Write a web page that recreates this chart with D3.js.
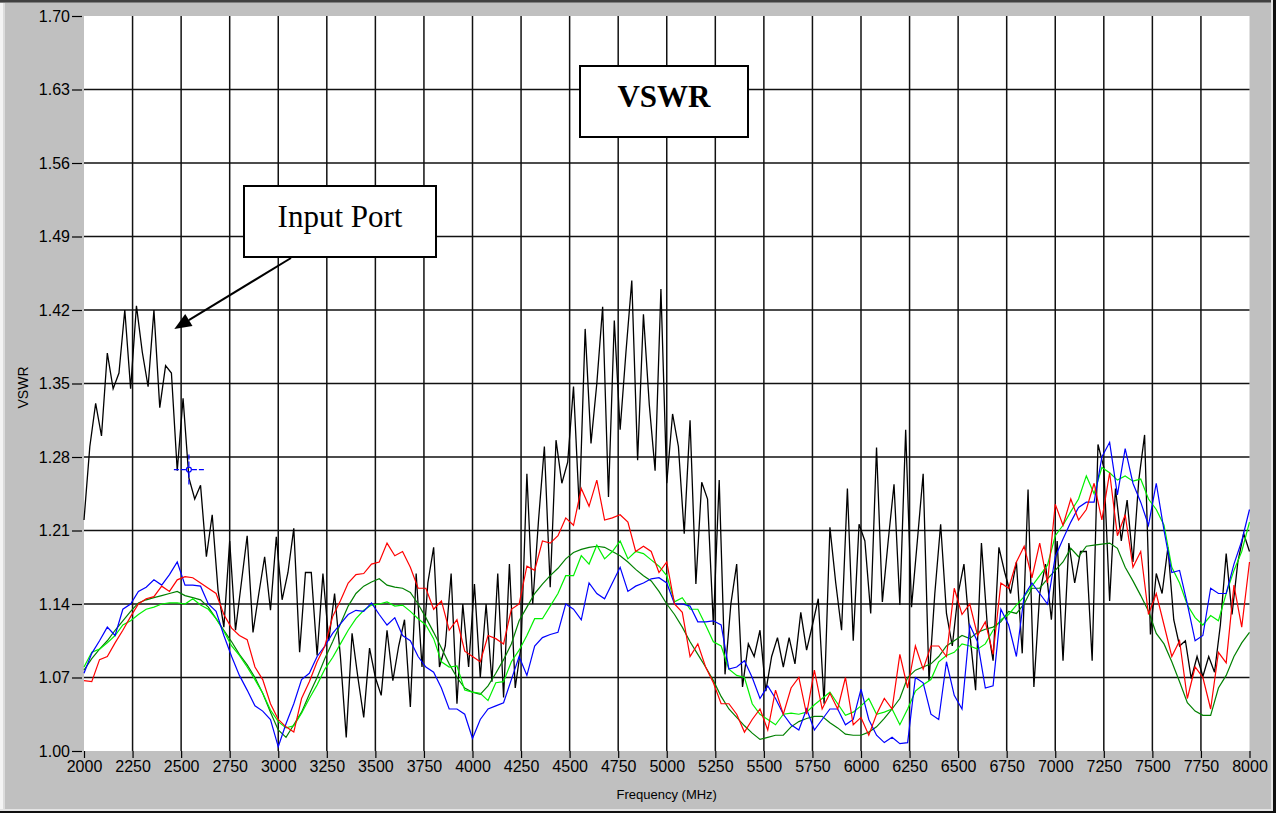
<!DOCTYPE html>
<html><head><meta charset="utf-8">
<script src="https://cdn.jsdelivr.net/npm/d3@7"></script>
<style>body{margin:0;background:#c0c0c0;overflow:hidden}svg{display:block}</style>
</head><body><svg id="c" width="1282" height="814"></svg>
<script>
// ---------- data ----------
const freqBlack = d3.range(2000, 8001, 30);   // 201 sweep points, MHz
const vswrBlack = [
 1.22,1.29,1.331,1.30,1.379,1.345,1.36,1.42,1.345,1.424,      // 2000
 1.38,1.347,1.42,1.327,1.367,1.36,1.267,1.336,1.26,1.24,      // 2300
 1.253,1.185,1.225,1.153,1.118,1.20,1.115,1.16,1.205,1.113,   // 2600
 1.15,1.185,1.134,1.204,1.144,1.17,1.212,1.094,1.17,1.17,     // 2900
 1.091,1.169,1.105,1.15,1.09,1.013,1.112,1.07,1.032,1.098,    // 3200
 1.07,1.053,1.115,1.067,1.10,1.125,1.042,1.169,1.08,1.16,     // 3500
 1.194,1.08,1.10,1.169,1.045,1.14,1.08,1.159,1.07,1.14,       // 3800
 1.066,1.169,1.051,1.178,1.06,1.10,1.264,1.14,1.22,1.29,      // 4100
 1.156,1.296,1.255,1.275,1.347,1.23,1.402,1.293,1.35,1.423,   // 4400
 1.242,1.41,1.306,1.38,1.448,1.277,1.416,1.33,1.267,1.44,     // 4700
 1.255,1.321,1.29,1.207,1.315,1.159,1.256,1.24,1.12,1.258,    // 5000
 1.073,1.14,1.178,1.061,1.102,1.09,1.115,1.057,1.09,1.108,    // 5300
 1.08,1.108,1.083,1.132,1.096,1.12,1.145,1.045,1.213,1.16,    // 5600
 1.115,1.25,1.105,1.216,1.20,1.131,1.289,1.142,1.20,1.254,    // 5900
 1.139,1.306,1.137,1.20,1.264,1.067,1.15,1.216,1.131,1.10,    // 6200
 1.15,1.178,1.112,1.058,1.198,1.12,1.086,1.194,1.17,1.15,     // 6500
 1.18,1.093,1.249,1.061,1.15,1.178,1.125,1.20,1.086,1.198,    // 6800
 1.16,1.19,1.19,1.086,1.292,1.27,1.143,1.25,1.20,1.239,       // 7100
 1.18,1.258,1.301,1.111,1.169,1.15,1.194,1.125,1.10,1.105,    // 7400
 1.069,1.09,1.071,1.09,1.075,1.12,1.188,1.13,1.18,1.207,      // 7700
 1.19                                                          // 8000
];
const freqOther = d3.range(2000, 8001, 40);   // 151 points, MHz
const vswrBlue = [
 1.074,1.093,1.105,1.118,1.11,1.135,1.14,1.152,1.156,1.163,   // 2000
 1.158,1.168,1.18,1.158,1.158,1.157,1.14,1.133,1.11,1.09,     // 2400
 1.072,1.058,1.043,1.038,1.03,1.004,1.026,1.045,1.068,1.074,  // 2800
 1.09,1.10,1.112,1.121,1.13,1.134,1.133,1.141,1.13,1.12,      // 3200
 1.127,1.11,1.105,1.09,1.08,1.075,1.06,1.04,1.04,1.035,       // 3600
 1.012,1.03,1.04,1.043,1.046,1.068,1.09,1.072,1.10,1.108,     // 4000
 1.111,1.113,1.14,1.135,1.125,1.16,1.15,1.145,1.16,1.175,     // 4400
 1.152,1.157,1.16,1.164,1.165,1.16,1.14,1.14,1.138,1.123,     // 4800
 1.123,1.124,1.12,1.078,1.08,1.086,1.07,1.05,1.062,1.05,      // 5200
 1.035,1.025,1.02,1.04,1.02,1.03,1.04,1.04,1.025,1.03,        // 5600
 1.059,1.03,1.015,1.008,1.013,1.007,1.008,1.07,1.065,1.035,   // 6000
 1.03,1.085,1.053,1.04,1.12,1.104,1.06,1.062,1.135,1.12,      // 6400
 1.09,1.148,1.16,1.15,1.14,1.185,1.202,1.218,1.232,1.237,     // 6800
 1.237,1.28,1.294,1.244,1.288,1.255,1.237,1.215,1.255,1.21,   // 7200
 1.17,1.172,1.14,1.105,1.11,1.155,1.15,1.15,1.178,1.2,        // 7600
 1.23                                                          // 8000
];
const vswrRed = [
 1.067,1.066,1.087,1.09,1.103,1.115,1.128,1.14,1.145,1.147,   // 2000
 1.157,1.152,1.163,1.166,1.165,1.16,1.155,1.15,1.13,1.117,    // 2400
 1.11,1.106,1.08,1.068,1.045,1.03,1.023,1.018,1.05,1.066,     // 2800
 1.085,1.10,1.128,1.143,1.16,1.168,1.169,1.178,1.18,1.198,    // 3200
 1.186,1.19,1.175,1.155,1.155,1.135,1.143,1.115,1.125,1.095,  // 3600
 1.09,1.085,1.11,1.107,1.102,1.135,1.14,1.176,1.172,1.2,      // 4000
 1.198,1.205,1.222,1.215,1.25,1.233,1.258,1.22,1.222,1.225,   // 4400
 1.218,1.19,1.195,1.19,1.17,1.18,1.14,1.132,1.09,1.102,       // 4800
 1.08,1.065,1.045,1.045,1.035,1.018,1.03,1.04,1.02,1.058,     // 5200
 1.035,1.06,1.07,1.035,1.077,1.04,1.055,1.04,1.07,1.025,      // 5600
 1.032,1.015,1.035,1.05,1.04,1.092,1.06,1.1,1.078,1.1,        // 6000
 1.1,1.09,1.155,1.13,1.14,1.11,1.123,1.092,1.16,1.155,        // 6400
 1.18,1.195,1.165,1.198,1.16,1.235,1.215,1.24,1.22,1.23,      // 6800
 1.255,1.22,1.265,1.205,1.225,1.175,1.19,1.13,1.15,1.12,      // 7200
 1.09,1.105,1.05,1.08,1.07,1.04,1.094,1.084,1.158,1.118,      // 7600
 1.18                                                          // 8000
];
const vswrGreen = [
 1.08,1.094,1.097,1.103,1.11,1.12,1.124,1.13,1.135,1.137,     // 2000
 1.14,1.141,1.141,1.14,1.145,1.139,1.135,1.126,1.114,1.1,     // 2400
 1.091,1.08,1.068,1.055,1.039,1.028,1.022,1.024,1.036,1.05,   // 2800
 1.063,1.078,1.089,1.102,1.115,1.126,1.134,1.139,1.14,1.142,  // 3200
 1.138,1.139,1.133,1.126,1.12,1.107,1.085,1.08,1.081,1.058,   // 3600
 1.056,1.055,1.048,1.065,1.066,1.085,1.096,1.11,1.126,1.126,  // 4000
 1.138,1.15,1.167,1.167,1.186,1.178,1.196,1.183,1.19,1.2,     // 4400
 1.183,1.19,1.188,1.182,1.176,1.167,1.142,1.146,1.135,1.135,  // 4800
 1.12,1.104,1.1,1.078,1.072,1.07,1.045,1.035,1.03,1.025,      // 5200
 1.035,1.036,1.035,1.037,1.044,1.05,1.056,1.045,1.034,1.037,  // 5600
 1.043,1.05,1.035,1.037,1.04,1.025,1.04,1.057,1.063,1.068,    // 6000
 1.085,1.091,1.094,1.102,1.1,1.097,1.102,1.115,1.125,1.13,    // 6400
 1.139,1.147,1.157,1.167,1.177,1.205,1.215,1.228,1.24,1.262,  // 6800
 1.245,1.27,1.265,1.258,1.262,1.257,1.259,1.24,1.23,1.215,    // 7200
 1.175,1.16,1.139,1.127,1.12,1.129,1.124,1.15,1.172,1.19,     // 7600
 1.218                                                         // 8000
];
const vswrDarkGreen = [
 1.077,1.088,1.097,1.105,1.115,1.124,1.133,1.141,1.144,1.146, // 2000
 1.148,1.15,1.152,1.148,1.146,1.144,1.137,1.126,1.115,1.104,  // 2400
 1.092,1.082,1.07,1.055,1.037,1.02,1.013,1.025,1.037,1.054,   // 2800
 1.07,1.088,1.104,1.121,1.138,1.15,1.157,1.161,1.164,1.158,   // 3200
 1.156,1.155,1.151,1.14,1.127,1.113,1.098,1.083,1.07,1.06,    // 3600
 1.056,1.054,1.062,1.074,1.087,1.102,1.124,1.137,1.15,1.159,  // 4000
 1.167,1.174,1.183,1.189,1.192,1.194,1.195,1.194,1.19,1.186,  // 4400
 1.18,1.173,1.167,1.162,1.152,1.14,1.13,1.118,1.104,1.092,    // 4800
 1.08,1.067,1.052,1.04,1.032,1.024,1.017,1.011,1.013,1.015,   // 5200
 1.015,1.023,1.028,1.031,1.033,1.033,1.027,1.022,1.016,1.015, // 5600
 1.015,1.018,1.023,1.031,1.04,1.05,1.07,1.077,1.08,1.083,     // 6000
 1.09,1.1,1.105,1.11,1.107,1.113,1.116,1.118,1.123,1.133,     // 6400
 1.131,1.14,1.155,1.155,1.164,1.172,1.18,1.193,1.185,1.195,   // 6800
 1.196,1.197,1.198,1.193,1.175,1.162,1.148,1.133,1.112,1.102, // 7200
 1.085,1.066,1.046,1.038,1.034,1.034,1.06,1.072,1.09,1.103,   // 7600
 1.113                                                         // 8000
];
const xTicks = [2000,2250,2500,2750,3000,3250,3500,3750,4000,4250,4500,4750,5000,5250,5500,5750,6000,6250,6500,6750,7000,7250,7500,7750,8000];
const yTicks = [1.00,1.07,1.14,1.21,1.28,1.35,1.42,1.49,1.56,1.63,1.70];
const cursorPoint = {freq: 2540, vswr: 1.268};
const titleText = "VSWR";
const noteText = "Input Port";
const noteTarget = {freq: 2465, vswr: 1.402};

// ---------- drawing ----------
const W = 1282, H = 814;
const svg = d3.select("#c");
const L = 84, R = 1249.5, T = 16, B = 751;
const x = d3.scaleLinear().domain([2000, 8000]).range([L, R]);
const y = d3.scaleLinear().domain([1.00, 1.70]).range([B, T]);

// window frame
svg.append("rect").attr("x",0).attr("y",0).attr("width",W).attr("height",H).attr("fill","#c0c0c0");
svg.append("rect").attr("x",0).attr("y",0).attr("width",3).attr("height",H).attr("fill","#f4f4f4");
svg.append("rect").attr("x",3).attr("y",0).attr("width",2).attr("height",H).attr("fill","#dcdcdc");
svg.append("rect").attr("x",0).attr("y",0).attr("width",W).attr("height",2).attr("fill","#404040");
svg.append("rect").attr("x",0).attr("y",2).attr("width",W).attr("height",1).attr("fill","#808080");
svg.append("rect").attr("x",1271).attr("y",0).attr("width",2).attr("height",H).attr("fill","#e4e4e4");
svg.append("rect").attr("x",1273).attr("y",0).attr("width",3).attr("height",H).attr("fill","#101010");
svg.append("rect").attr("x",1276).attr("y",0).attr("width",6).attr("height",H).attr("fill","#ffffff");
svg.append("rect").attr("x",0).attr("y",809).attr("width",1273).attr("height",2).attr("fill","#e4e4e4");
svg.append("rect").attr("x",0).attr("y",811).attr("width",1276).attr("height",2).attr("fill","#101010");
svg.append("rect").attr("x",0).attr("y",813).attr("width",W).attr("height",1).attr("fill","#ffffff");

// plot area
svg.append("rect").attr("x",L).attr("y",T).attr("width",R-L).attr("height",B-T).attr("fill","#ffffff");

// grid
const grid = svg.append("g").attr("stroke","#111").attr("stroke-width",1.5);
grid.selectAll("line.v").data(xTicks.slice(1,-1)).join("line")
  .attr("x1",d=>x(d)).attr("x2",d=>x(d)).attr("y1",T).attr("y2",B);
grid.selectAll("line.h").data(yTicks.slice(1,-1)).join("line")
  .attr("x1",L).attr("x2",R).attr("y1",d=>y(d)).attr("y2",d=>y(d));

// axes
const fontSans = "'Liberation Sans', Arial, sans-serif";
const yAxis = d3.axisLeft(y).tickValues(yTicks).tickFormat(d3.format(".2f")).tickSize(10).tickPadding(2);
const gy = svg.append("g").attr("transform",`translate(${L-2},0)`).call(yAxis);
gy.select(".domain").remove();
gy.selectAll(".tick line").attr("stroke","#000").attr("stroke-width",1.2);
gy.selectAll(".tick text").attr("font-family",fontSans).attr("font-size",16).attr("fill","#000");

const xAxis = d3.axisBottom(x).tickValues(xTicks).tickFormat(d3.format("d")).tickSize(7).tickPadding(3);
const gx = svg.append("g").attr("transform",`translate(0,${B})`).call(xAxis);
gx.select(".domain").remove();
gx.selectAll(".tick line").attr("stroke","#000").attr("stroke-width",1.2);
gx.selectAll(".tick text").attr("font-family",fontSans).attr("font-size",16).attr("fill","#000");

svg.append("text").attr("x",(L+R)/2).attr("y",799).attr("text-anchor","middle")
  .attr("font-family",fontSans).attr("font-size",13).attr("fill","#000").text("Frequency (MHz)");
svg.append("text").attr("transform",`translate(28,${(T+B)/2 + 4}) rotate(-90)`).attr("text-anchor","middle")
  .attr("font-family",fontSans).attr("font-size",14).attr("fill","#000").text("VSWR");

// series
const plot = svg.append("g");
const line = d3.line().x(d=>x(d[0])).y(d=>y(d[1]));
const zip = (f, v) => v.map((val, i) => [f[i], val]).filter(d => d[0] !== undefined);
const series = [
  {f: freqBlack, v: vswrBlack, c: "#000000", w: 1.3},
  {f: freqOther, v: vswrDarkGreen, c: "#008000", w: 1.2},
  {f: freqOther, v: vswrGreen, c: "#00f000", w: 1.2},
  {f: freqOther, v: vswrBlue, c: "#0000ff", w: 1.2},
  {f: freqOther, v: vswrRed, c: "#ff0000", w: 1.2}
];
plot.selectAll("path.s").data(series).join("path").attr("class","s")
  .attr("d", s => line(zip(s.f, s.v))).attr("fill","none")
  .attr("stroke", s => s.c).attr("stroke-width", s => s.w).attr("stroke-linejoin","miter");

// cursor
const cx = x(cursorPoint.freq), cy = y(cursorPoint.vswr);
const cur = svg.append("g").attr("stroke","#0000ff").attr("stroke-width",1.2).attr("fill","none");
cur.append("line").attr("x1",cx-15).attr("x2",cx-3).attr("y1",cy).attr("y2",cy).attr("stroke-dasharray","5,2");
cur.append("line").attr("x1",cx+3).attr("x2",cx+15).attr("y1",cy).attr("y2",cy).attr("stroke-dasharray","5,2");
cur.append("line").attr("x1",cx).attr("x2",cx).attr("y1",cy-15).attr("y2",cy-3).attr("stroke-dasharray","5,2");
cur.append("line").attr("x1",cx).attr("x2",cx).attr("y1",cy+3).attr("y2",cy+15).attr("stroke-dasharray","5,2");
cur.append("circle").attr("cx",cx).attr("cy",cy).attr("r",2.5);

// title box
const fontSerif = "'Liberation Serif', 'Times New Roman', serif";
svg.append("rect").attr("x",580).attr("y",66).attr("width",168).attr("height",71)
  .attr("fill","#fff").attr("stroke","#000").attr("stroke-width",2);
svg.append("text").attr("x",664).attr("y",107).attr("text-anchor","middle")
  .attr("font-family",fontSerif).attr("font-weight","bold").attr("font-size",31).attr("fill","#000").text(titleText);

// annotation box + arrow
svg.append("rect").attr("x",244).attr("y",186).attr("width",192).attr("height",71)
  .attr("fill","#fff").attr("stroke","#000").attr("stroke-width",2);
svg.append("text").attr("x",340).attr("y",227).attr("text-anchor","middle")
  .attr("font-family",fontSerif).attr("font-size",31).attr("fill","#000").text(noteText);
const tx = x(noteTarget.freq) , ty = y(noteTarget.vswr);
const sx = 291, sy = 258;
const ang = Math.atan2(ty - sy, tx - sx);
const hl = 17, hw = 7;
const bx = tx - hl*Math.cos(ang), by = ty - hl*Math.sin(ang);
svg.append("line").attr("x1",sx).attr("y1",sy).attr("x2",bx).attr("y2",by).attr("stroke","#000").attr("stroke-width",2);
svg.append("path").attr("d", `M${tx},${ty} L${bx + hw*Math.sin(ang)},${by - hw*Math.cos(ang)} L${bx - hw*Math.sin(ang)},${by + hw*Math.cos(ang)} Z`).attr("fill","#000");
</script></body></html>
